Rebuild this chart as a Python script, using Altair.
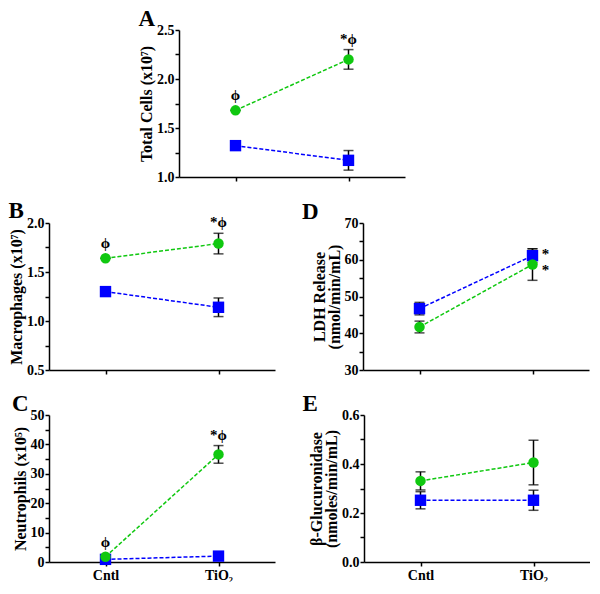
import altair as alt
import pandas as pd

groups = ["Cntl", "TiO₂"]
series = ["blue", "green"]

# Panel A: Total cells (x10^7)
A_blue = [1.32, 1.17]
A_blue_err = [0.0, 0.10]
A_green = [1.68, 2.20]
A_green_err = [0.0, 0.10]

# Panel B: Macrophages (x10^7)
B_blue = [1.30, 1.14]
B_blue_err = [0.0, 0.095]
B_green = [1.64, 1.79]
B_green_err = [0.0, 0.105]

# Panel C: Neutrophils (x10^5)
C_blue = [0.9, 2.0]
C_blue_err = [0.0, 0.0]
C_green = [1.8, 36.6]
C_green_err = [0.0, 3.0]

# Panel D: LDH release
D_blue = [46.7, 61.1]
D_blue_err = [1.7, 1.9]
D_green = [41.7, 58.7]
D_green_err = [1.6, 4.3]

# Panel E: beta-glucuronidase
E_blue = [0.252, 0.252]
E_blue_err = [0.035, 0.041]
E_green = [0.331, 0.406]
E_green_err = [0.037, 0.091]

BLUE = "#0000ff"
GREEN = "#10c810"
FONT = "Liberation Serif"
W, H = 226, 147


def panel(letter, ytitle, domain, ticks, label_expr, blue, blue_err, green, green_err,
          annots, xlabels, title_dx):
    rows = []
    for s, m, e in (("blue", blue, blue_err), ("green", green, green_err)):
        for g, mv, ev in zip(groups, m, e):
            rows.append(dict(series=s, group=g, mean=mv, lo=mv - ev, hi=mv + ev))
    df = pd.DataFrame(rows)

    x = alt.X("group:N", sort=groups,
              scale=alt.Scale(type="point", padding=0.5),
              axis=alt.Axis(title=None, labels=xlabels, labelAngle=0, labelPadding=2))
    yaxis = alt.Axis(title=ytitle, values=ticks, labelExpr=label_expr,
                     labelPadding=1, titlePadding=2)
    yscale = alt.Scale(domain=domain, nice=False, zero=False)
    color = alt.Color("series:N", scale=alt.Scale(domain=series, range=[BLUE, GREEN]), legend=None)

    base = alt.Chart(df)
    err = base.mark_rule(color="black", strokeWidth=1.5).encode(
        x=x, y=alt.Y("lo:Q", scale=yscale, axis=yaxis), y2="hi:Q")
    cap_lo = base.mark_tick(color="black", size=10, thickness=1.5).encode(
        x=x, y=alt.Y("lo:Q", scale=yscale, axis=yaxis))
    cap_hi = base.mark_tick(color="black", size=10, thickness=1.5).encode(
        x=x, y=alt.Y("hi:Q", scale=yscale, axis=yaxis))
    lines = base.mark_line(strokeDash=[4, 2], strokeWidth=1.5).encode(
        x=x, y=alt.Y("mean:Q", scale=yscale, axis=yaxis), color=color, detail="series:N")
    squares = base.transform_filter(alt.datum.series == "blue").mark_point(
        shape="square", filled=True, size=130, color=BLUE, opacity=1).encode(
        x=x, y=alt.Y("mean:Q", scale=yscale, axis=yaxis))
    circles = base.transform_filter(alt.datum.series == "green").mark_point(
        shape="circle", filled=True, size=110, color=GREEN, opacity=1).encode(
        x=x, y=alt.Y("mean:Q", scale=yscale, axis=yaxis))

    layers = [err, cap_lo, cap_hi, lines, squares, circles]
    for text, grp, ser, field, dx, dy in annots:
        t = base.transform_filter(
            (alt.datum.series == ser) & (alt.datum.group == grp)
        ).mark_text(text=text, font=FONT, fontWeight="bold", fontSize=15, color="black",
                    dx=dx, dy=dy, baseline="middle", align="center").encode(
            x=x, y=alt.Y(f"{field}:Q", scale=yscale, axis=yaxis))
        layers.append(t)

    return alt.layer(*layers).properties(
        width=W, height=H,
        title=alt.TitleParams(letter, anchor="start", frame="bounds", dx=title_dx,
                              dy=26, offset=0, baseline="alphabetic"),
    )


half = "round(datum.value*4) % 2 ? '' : format(datum.value, '.1f')"
tenths = "round(datum.value*10) % 2 ? '' : format(datum.value, '.1f')"
tens = "datum.value % 10 ? '' : format(datum.value, 'd')"

phi_annots = [("ϕ", "Cntl", "green", "mean", 0, -15),
              ("*ϕ", "TiO₂", "green", "hi", 0, -11)]

pA = panel("A", "Total Cells (x10⁷)", [1.0, 2.5], [1.0, 1.25, 1.5, 1.75, 2.0, 2.25, 2.5], half,
           A_blue, A_blue_err, A_green, A_green_err, phi_annots, False, 0)
pB = panel("B", "Macrophages (x10⁷)", [0.5, 2.0], [0.5, 0.75, 1.0, 1.25, 1.5, 1.75, 2.0], half,
           B_blue, B_blue_err, B_green, B_green_err, phi_annots, False, 0)
pC = panel("C", "Neutrophils (x10⁵)", [0, 50], list(range(0, 55, 5)), tens,
           C_blue, C_blue_err, C_green, C_green_err, phi_annots, True, 0)
pD = panel("D", ["LDH Release", "(nmol/min/mL)"], [30, 70], list(range(30, 75, 5)), tens,
           D_blue, D_blue_err, D_green, D_green_err,
           [("*", "TiO₂", "blue", "mean", 13, -2), ("*", "TiO₂", "green", "mean", 13, 5)],
           False, -9)
pE = panel("E", ["β-Glucuronidase", "(nmoles/min/mL)"], [0, 0.6],
           [0.0, 0.1, 0.2, 0.3, 0.4, 0.5, 0.6], tenths,
           E_blue, E_blue_err, E_green, E_green_err, [], True, -6)

spacer = alt.Chart(pd.DataFrame({"v": [0]})).mark_point(opacity=0).properties(width=89, height=10)

row1 = alt.hconcat(spacer, pA, spacing=0)
row2 = alt.hconcat(pB, pD, spacing=27)
row3 = alt.hconcat(pC, pE, spacing=27)

chart = alt.vconcat(row1, row2, row3, spacing=16).properties(
    padding=0
).configure_view(
    stroke=None
).configure_axis(
    domainColor="black", domainWidth=1.5, tickColor="black", tickWidth=1.5, tickSize=4,
    labelFont=FONT, labelFontWeight="bold", labelFontSize=14, labelColor="black",
    titleFont=FONT, titleFontWeight="bold", titleFontSize=16, titleColor="black",
    titleLineHeight=15, grid=False,
).configure_title(
    font=FONT, fontSize=23, fontWeight="bold", color="black", anchor="start",
)

chart.save("out.html", embed_options={"renderer": "svg", "actions": False})
